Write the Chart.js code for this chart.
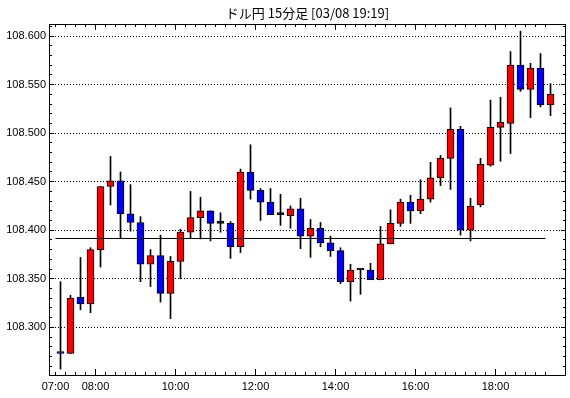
<!DOCTYPE html>
<html>
<head>
<meta charset="utf-8">
<script src="https://cdn.jsdelivr.net/npm/chart.js@4.4.1/dist/chart.umd.min.js"></script>
<style>
  html, body { margin: 0; padding: 0; background: #fff; }
  #wrap { width: 570px; height: 398px; }
</style>
</head>
<body>
<div id="wrap"><canvas id="chart"></canvas></div>
<script>
const titleText = 'ドル円 15分足 [03/08 19:19]'

// 15 minute candles from 07:00, one per slot
const opens = [108.275, 108.273, 108.331, 108.324, 108.380, 108.445, 108.451, 108.417, 108.408, 108.365,
  108.374, 108.335, 108.368, 108.398, 108.413, 108.420, 108.407, 108.407, 108.383, 108.460,
  108.441, 108.429, 108.416, 108.415, 108.422, 108.394, 108.402, 108.387, 108.379, 108.347,
  108.359, 108.359, 108.349, 108.386, 108.407, 108.429, 108.420, 108.432, 108.454, 108.474,
  108.504, 108.400, 108.426, 108.467, 108.506, 108.510, 108.570, 108.545, 108.567, 108.529]
const highs = [108.347, 108.333, 108.372, 108.382, 108.445, 108.476, 108.460, 108.447, 108.414, 108.380,
  108.395, 108.373, 108.401, 108.440, 108.434, 108.420, 108.418, 108.409, 108.463, 108.488,
  108.443, 108.443, 108.437, 108.425, 108.433, 108.411, 108.408, 108.394, 108.382, 108.365,
  108.360, 108.366, 108.404, 108.421, 108.432, 108.436, 108.452, 108.470, 108.477, 108.526,
  108.507, 108.433, 108.474, 108.534, 108.537, 108.584, 108.605, 108.572, 108.582, 108.551]
const lows = [108.257, 108.273, 108.318, 108.315, 108.362, 108.426, 108.392, 108.399, 108.347, 108.342,
  108.326, 108.309, 108.350, 108.392, 108.391, 108.389, 108.398, 108.371, 108.377, 108.432,
  108.410, 108.416, 108.405, 108.402, 108.381, 108.372, 108.383, 108.373, 108.345, 108.327,
  108.334, 108.349, 108.349, 108.386, 108.404, 108.407, 108.417, 108.429, 108.446, 108.442,
  108.395, 108.389, 108.424, 108.466, 108.471, 108.479, 108.543, 108.516, 108.527, 108.518]
const closes = [108.273, 108.330, 108.324, 108.380, 108.445, 108.451, 108.417, 108.408, 108.365, 108.374,
  108.335, 108.368, 108.398, 108.413, 108.420, 108.407, 108.407, 108.383, 108.460, 108.441,
  108.429, 108.416, 108.416, 108.422, 108.394, 108.402, 108.387, 108.379, 108.347, 108.359,
  108.359, 108.349, 108.386, 108.407, 108.429, 108.420, 108.432, 108.454, 108.474, 108.504,
  108.400, 108.425, 108.468, 108.506, 108.511, 108.570, 108.545, 108.567, 108.529, 108.540]

const baseLine = 108.3915

const xTickSlots = [0, 4, 12, 20, 28, 36, 44]
const xTickLabels = ['07:00', '08:00', '10:00', '12:00', '14:00', '16:00', '18:00']
const yTickValues = [108.30, 108.35, 108.40, 108.45, 108.50, 108.55, 108.60]
const yTickLabels = ['108.300', '108.350', '108.400', '108.450', '108.500', '108.550', '108.600']

const slotCount = 50
const yMin = 108.2509
const yMax = 108.6124

function isMajorY(v) {
    return yTickValues.some(t => Math.abs(t - v) < 1e-6)
}

function candleColor(i) {
    if (closes[i] > opens[i]) return '#ff0000'
    if (closes[i] < opens[i]) return '#0000ff'
    return '#000000'
}

const wicks = opens.map((o, i) => ({ x: i + 0.5, y: [lows[i], highs[i]] }))
const bodies = opens.map((o, i) => ({ x: i + 0.5, y: [o, closes[i]] }))

// title over the plot area
const titlePlugin = {
    id: 'titlePlugin',
    afterDraw(chart) {
        const { ctx, chartArea } = chart
        ctx.save()
        ctx.fillStyle = '#000'
        ctx.font = '13px "Noto Sans CJK JP"'
        ctx.textAlign = 'center'
        ctx.textBaseline = 'middle'
        ctx.fillText(titleText, (chartArea.left + chartArea.right) / 2, 13)
        ctx.restore()
    }
}

// frame with inward tick marks on all four sides
const framePlugin = {
    id: 'framePlugin',
    afterDraw(chart) {
        const { ctx, chartArea: a, scales } = chart
        const x = scales.x
        const y = scales.y
        ctx.save()
        ctx.strokeStyle = '#000'
        ctx.lineWidth = 1
        ctx.strokeRect(a.left + 0.5, a.top + 0.5, a.right - a.left - 1, a.bottom - a.top)
        ctx.beginPath()
        for (let s = 0; s < slotCount; s++) {
            const px = Math.round(x.getPixelForValue(s) - 0.5) + 0.5
            const len = (s >= 4 && (s - 4) % 8 === 0) ? 6 : 3
            ctx.moveTo(px, a.bottom)
            ctx.lineTo(px, a.bottom - len)
            ctx.moveTo(px, a.top)
            ctx.lineTo(px, a.top + len)
        }
        y.ticks.forEach(t => {
            const py = Math.round(y.getPixelForValue(t.value) - 0.5) + 0.5
            const len = isMajorY(t.value) ? 5 : 3
            ctx.moveTo(a.left, py)
            ctx.lineTo(a.left + len, py)
            ctx.moveTo(a.right, py)
            ctx.lineTo(a.right - len, py)
        })
        ctx.stroke()
        ctx.restore()
    }
}

new Chart('chart', {
    type: 'bar',
    data: {
        datasets: [
            {
                type: 'line',
                data: [{ x: 0, y: baseLine }, { x: slotCount - 1, y: baseLine }],
                borderColor: '#000',
                borderWidth: 1,
                pointRadius: 0,
                order: 0
            },
            {
                data: bodies,
                backgroundColor: ctx => candleColor(ctx.dataIndex),
                borderColor: '#000',
                borderWidth: 1,
                borderSkipped: false,
                barThickness: 7,
                minBarLength: 2,
                grouped: false,
                order: 1
            },
            {
                data: wicks,
                backgroundColor: '#000',
                borderWidth: 0,
                barThickness: 1,
                grouped: false,
                order: 2
            }
        ]
    },
    options: {
        responsive: true,
        maintainAspectRatio: false,
        animation: false,
        layout: { padding: { top: 24, right: 4, bottom: 0, left: 0 } },
        plugins: {
            legend: { display: false },
            tooltip: { enabled: false }
        },
        scales: {
            x: {
                type: 'linear',
                offset: false,
                min: -0.65,
                max: 51.05,
                afterFit: s => { s.height = 23 },
                afterBuildTicks: s => {
                    const t = []
                    for (let i = 0; i < slotCount; i++) t.push({ value: i })
                    s.ticks = t
                },
                grid: { display: false, drawTicks: false },
                border: { display: false },
                ticks: {
                    autoSkip: false,
                    maxRotation: 0,
                    padding: 5,
                    color: '#000',
                    font: { family: 'Liberation Sans', size: 11 },
                    callback: v => {
                        const k = xTickSlots.indexOf(v)
                        return k >= 0 ? xTickLabels[k] : ''
                    }
                }
            },
            y: {
                min: yMin,
                max: yMax,
                afterFit: s => { s.width = 49 },
                afterBuildTicks: s => {
                    const t = []
                    for (let c = 10826; c <= 10861; c++) t.push({ value: c / 100 })
                    s.ticks = t
                },
                grid: {
                    drawTicks: false,
                    color: ctx => (ctx.tick && isMajorY(ctx.tick.value)) ? '#000' : 'rgba(0,0,0,0)',
                    lineWidth: 1
                },
                border: { display: false, dash: [1, 2] },
                ticks: {
                    autoSkip: false,
                    padding: 3,
                    color: '#000',
                    font: { family: 'Liberation Sans', size: 11 },
                    callback: v => {
                        const k = yTickValues.findIndex(t => Math.abs(t - v) < 1e-6)
                        return k >= 0 ? yTickLabels[k] : ''
                    }
                }
            }
        }
    },
    plugins: [titlePlugin, framePlugin]
})
</script>
</body>
</html>
